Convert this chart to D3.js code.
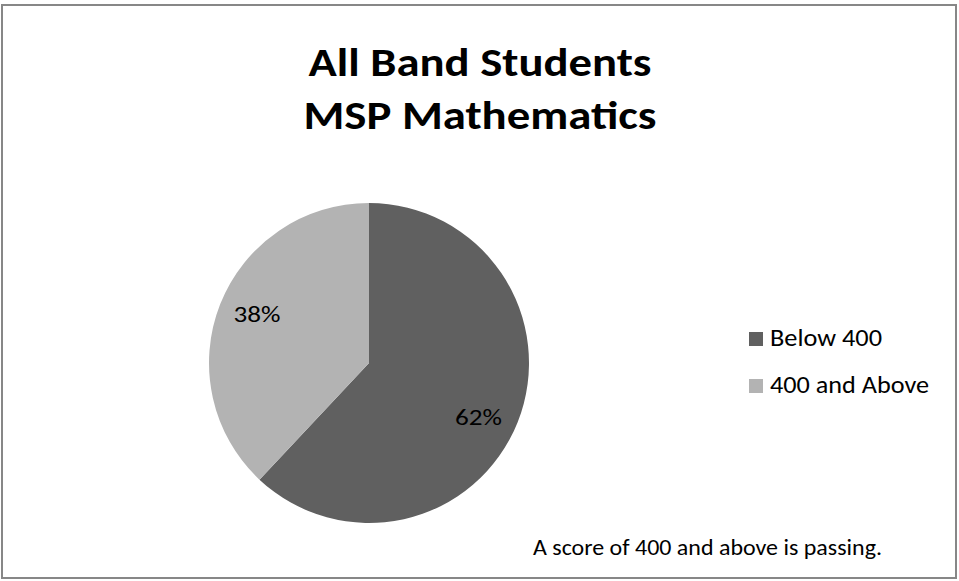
<!DOCTYPE html>
<html>
<head>
<meta charset="utf-8">
<script src="https://cdn.jsdelivr.net/npm/d3@7"></script>
<style>
  html, body { margin: 0; padding: 0; background: #fff; }
  svg { display: block; }
  text { font-family: Carlito, Lato, "Open Sans", sans-serif; fill: #000; }
</style>
</head>
<body>
<svg id="chart" width="959" height="581"></svg>
<script>
const titleLines = ["All Band Students", "MSP Mathematics"];
const categories = ["Below 400", "400 and Above"];
const values = [62, 38];
const colors = ["#606060", "#b3b3b3"];
const footnote = "A score of 400 and above is passing.";

const svg = d3.select("#chart");

// outer border
svg.append("rect")
  .attr("x", 2).attr("y", 5)
  .attr("width", 954).attr("height", 573)
  .attr("fill", "#fff")
  .attr("stroke", "#878787")
  .attr("stroke-width", 2);

// title
const titleLen = [343, 353];
svg.append("g").selectAll("text")
  .data(titleLines)
  .join("text")
  .attr("x", 480)
  .attr("y", (d, i) => 76 + i * 53)
  .attr("text-anchor", "middle")
  .attr("font-size", 41)
  .attr("font-weight", "bold")
  .attr("textLength", (d, i) => titleLen[i])
  .attr("lengthAdjust", "spacingAndGlyphs")
  .text(d => d);

// pie
const cx = 369, cy = 363, r = 160;
const pie = d3.pie().sort(null).value(d => d);
const arcs = pie(values);
const arc = d3.arc().innerRadius(0).outerRadius(r);
const labelArc = d3.arc().innerRadius(122).outerRadius(122);
const color = d3.scaleOrdinal().domain(categories).range(colors);

const g = svg.append("g").attr("transform", `translate(${cx},${cy})`);
g.selectAll("path")
  .data(arcs)
  .join("path")
  .attr("d", arc)
  .attr("fill", (d, i) => color(categories[i]));

const fmt = d3.format(".0%");
const total = d3.sum(values);
const labelLen = [47, 47];
const nudge = [[-4, 9], [1.5, -4]]; // best-fit placement tweak
g.selectAll("text.lbl")
  .data(arcs)
  .join("text")
  .attr("class", "lbl")
  .attr("transform", (d, i) => {
    const c = labelArc.centroid(d);
    return `translate(${c[0] + nudge[i][0]},${c[1] + nudge[i][1]})`;
  })
  .attr("dy", "0.36em")
  .attr("text-anchor", "middle")
  .attr("font-size", 23)
  .attr("textLength", (d, i) => labelLen[i])
  .attr("lengthAdjust", "spacingAndGlyphs")
  .text(d => fmt(d.data / total));

// legend
const legend = svg.append("g");
const legLen = [112, 159];
const items = legend.selectAll("g")
  .data(categories)
  .join("g")
  .attr("transform", (d, i) => `translate(749,${332 + i * 47})`);
items.append("rect")
  .attr("width", 14).attr("height", 14)
  .attr("fill", d => color(d));
items.append("text")
  .attr("x", 21).attr("y", 14)
  .attr("font-size", 24)
  .attr("textLength", (d, i) => legLen[i])
  .attr("lengthAdjust", "spacingAndGlyphs")
  .text(d => d);

// footnote
svg.append("text")
  .attr("x", 533).attr("y", 555)
  .attr("font-size", 22)
  .attr("textLength", 349)
  .attr("lengthAdjust", "spacingAndGlyphs")
  .text(footnote);
</script>
</body>
</html>
